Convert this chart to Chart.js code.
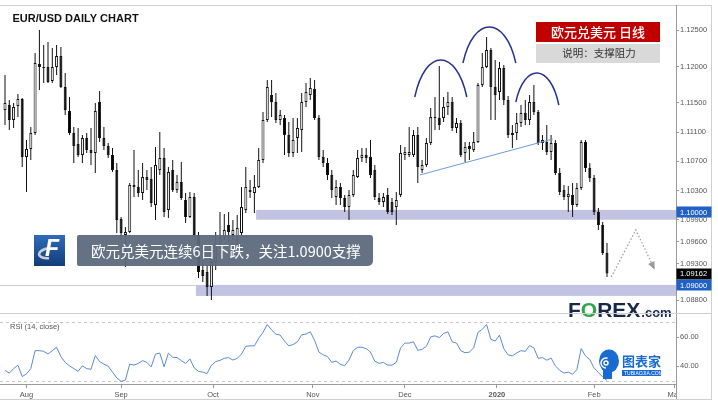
<!DOCTYPE html>
<html><head><meta charset="utf-8">
<title>EUR/USD Daily Chart</title>
<script src="https://cdn.jsdelivr.net/npm/chart.js@4.4.1/dist/chart.umd.min.js"></script>
<style>
html,body{margin:0;padding:0;background:#fff;}
body{width:718px;height:403px;position:relative;overflow:hidden;}
#frame{position:absolute;left:0;top:5px;width:712px;height:395px;box-sizing:border-box;border-top:1px solid #d0d0d0;border-right:1px solid #d0d0d0;border-bottom:1px solid #d0d0d0;}
canvas{position:absolute;left:0;}
#mainC{top:0;}
#rsiC{top:313px;}
</style></head>
<body>
<div id="frame"></div>
<canvas id="mainC" width="718" height="322" style="width:718px;height:322px"></canvas>
<canvas id="rsiC" width="718" height="90" style="width:718px;height:90px"></canvas>
<script>
// ---------------- data ----------------
const opens = [1.11404,1.11473,1.11267,1.11459,1.11555,1.10760,1.10870,1.11089,1.12034,1.11993,
1.11993,1.11801,1.11993,1.12144,1.11719,1.11390,1.11089,1.10938,1.10788,1.11020,
1.10856,1.10815,1.11514,1.11020,1.10911,1.10788,1.10582,1.09911,1.09692,1.09733,
1.10377,1.10349,1.10267,1.10486,1.10459,1.10103,1.10582,1.10746,1.10034,1.10582,
1.10308,1.10418,1.10171,1.09938,1.10212,1.09692,1.09212,1.09185,1.08979,1.09322,
1.09555,1.09664,1.09829,1.09692,1.09623,1.09719,1.10034,1.10308,1.10267,1.10349,
1.10719,1.11267,1.11610,1.11514,1.11267,1.11295,1.11062,1.10815,1.11020,1.11130,
1.11514,1.11610,1.11692,1.11295,1.10760,1.10678,1.10514,1.10212,1.10349,1.10198,
1.10075,1.10240,1.10486,1.10746,1.10788,1.10760,1.10582,1.10198,1.10144,1.10240,
1.10144,1.10075,1.10240,1.10788,1.10788,1.10788,1.11062,1.10582,1.10651,1.10952,
1.11308,1.11295,1.11295,1.11445,1.11514,1.11157,1.11226,1.10815,1.10911,1.10856,
1.10966,1.11747,1.11993,1.12226,1.11719,1.11651,1.11979,1.11541,1.11062,1.11089,
1.11226,1.11363,1.11267,1.11514,1.11377,1.10952,1.10966,1.10829,1.10952,1.10541,
1.10308,1.10212,1.10240,1.10103,1.10335,1.10966,1.10609,1.10472,1.10007,1.09829,
1.09445];
const highs = [1.11883,1.11541,1.11500,1.11623,1.11568,1.10993,1.11171,1.12185,1.12500,1.12295,
1.12336,1.12253,1.12295,1.12267,1.11911,1.11582,1.11171,1.11157,1.11062,1.11089,
1.11157,1.11500,1.11664,1.11171,1.10952,1.10883,1.10678,1.09938,1.09801,1.10404,
1.10856,1.10582,1.10678,1.10582,1.10623,1.10897,1.11103,1.10883,1.10623,1.10719,
1.10514,1.10692,1.10267,1.10281,1.10267,1.09733,1.09322,1.09281,1.09486,1.09733,
1.10007,1.09979,1.10007,1.09897,1.09966,1.10349,1.10623,1.10445,1.10514,1.10883,
1.11377,1.11815,1.11815,1.11637,1.11404,1.11336,1.11240,1.11295,1.11295,1.11637,
1.11774,1.11842,1.11815,1.11336,1.10856,1.10746,1.10582,1.10445,1.10404,1.10240,
1.10308,1.10582,1.10856,1.10883,1.10883,1.10993,1.10651,1.10267,1.10267,1.10335,
1.10198,1.10281,1.10924,1.10897,1.11171,1.11130,1.11171,1.10719,1.11020,1.11431,
1.11582,1.12007,1.11582,1.11651,1.11582,1.11295,1.11267,1.10966,1.10966,1.11103,
1.11774,1.12185,1.12404,1.12253,1.12089,1.12062,1.12021,1.11596,1.11199,1.11363,
1.11473,1.11541,1.11610,1.11747,1.11404,1.11062,1.11199,1.11062,1.10993,1.10609,
1.10377,1.10363,1.10404,1.10404,1.10993,1.10993,1.10678,1.10514,1.10061,1.09870,
1.09582];
const lows = [1.11199,1.11130,1.11157,1.11308,1.10623,1.10281,1.10719,1.11062,1.11678,1.11774,
1.11774,1.11774,1.11883,1.11705,1.11336,1.11062,1.10678,1.10760,1.10678,1.10815,
1.10651,1.10541,1.10966,1.10856,1.10746,1.10555,1.09719,1.09623,1.09253,1.09719,
1.10212,1.10212,1.10171,1.10308,1.10075,1.09897,1.10514,1.09938,1.09924,1.10281,
1.10267,1.10171,1.09856,1.09924,1.09664,1.09102,1.09048,1.08856,1.08801,1.09212,
1.09514,1.09623,1.09596,1.09623,1.09555,1.09692,1.09993,1.10198,1.09993,1.10335,
1.10678,1.11240,1.11308,1.11226,1.11199,1.10788,1.10760,1.10760,1.10815,1.10829,
1.11445,1.11541,1.11267,1.10719,1.10623,1.10445,1.10198,1.10103,1.10103,1.10007,
1.09897,1.10212,1.10472,1.10692,1.10678,1.10472,1.10171,1.10103,1.10075,1.09979,
1.09966,1.09829,1.10212,1.10719,1.10760,1.10760,1.10404,1.10541,1.10623,1.10924,
1.11130,1.11130,1.11240,1.11336,1.11116,1.11089,1.10760,1.10692,1.10719,1.10829,
1.10952,1.11719,1.11979,1.11267,1.11267,1.11541,1.11473,1.11020,1.10883,1.10993,
1.11171,1.11199,1.11199,1.11336,1.10924,1.10856,1.10788,1.10719,1.10514,1.10240,
1.10171,1.10007,1.09938,1.10075,1.10308,1.10555,1.10418,1.09966,1.09760,1.09417,
1.09116];
const closes = [1.11500,1.11267,1.11445,1.11555,1.10760,1.10870,1.11089,1.12048,1.11993,1.11979,
1.11788,1.11993,1.12144,1.11719,1.11404,1.11089,1.10911,1.10788,1.11020,1.10856,
1.10815,1.11390,1.11020,1.10911,1.10788,1.10582,1.09897,1.09719,1.09733,1.10377,
1.10349,1.10267,1.10486,1.10445,1.10130,1.10651,1.10746,1.10007,1.10555,1.10308,
1.10418,1.10198,1.09938,1.10212,1.09692,1.09185,1.09130,1.08979,1.09322,1.09555,
1.09650,1.09760,1.09733,1.09760,1.09787,1.10075,1.10349,1.10281,1.10349,1.10719,
1.11267,1.11719,1.11514,1.11267,1.11336,1.11062,1.10815,1.10993,1.11157,1.11514,
1.11651,1.11705,1.11295,1.10760,1.10678,1.10514,1.10308,1.10349,1.10198,1.10075,
1.10240,1.10514,1.10746,1.10788,1.10746,1.10514,1.10212,1.10144,1.10212,1.10007,
1.10007,1.10171,1.10815,1.10829,1.10829,1.11062,1.10623,1.10651,1.10952,1.11308,
1.11295,1.11199,1.11445,1.11514,1.11157,1.11226,1.10788,1.10897,1.10870,1.10966,
1.11747,1.11993,1.12226,1.11719,1.11610,1.11979,1.11541,1.11062,1.11089,1.11226,
1.11363,1.11267,1.11514,1.11377,1.10952,1.10993,1.10829,1.10952,1.10541,1.10281,
1.10212,1.10253,1.10103,1.10335,1.10966,1.10609,1.10472,1.10007,1.09829,1.09445,
1.09162];
const rsi14 = [37.0,35.1,38.2,40.6,32.7,34.6,38.2,50.6,50.6,50.1,
48.2,50.6,52.9,46.5,42.5,40.1,38.2,36.3,40.1,38.2,
37.7,47.2,43.0,41.3,39.9,35.8,31.8,29.4,30.3,41.3,
40.6,41.8,43.7,42.5,39.4,48.2,48.9,39.4,48.9,46.0,
45.8,43.7,41.8,44.9,38.7,36.3,35.8,34.8,40.5,43.0,
43.9,45.3,45.8,44.1,45.3,48.2,53.6,53.9,53.9,59.1,
63.2,68.6,64.8,62.0,61.3,57.2,53.9,54.8,56.7,61.5,
62.0,63.6,57.7,49.6,47.7,46.5,42.5,43.4,41.2,40.2,
44.1,50.6,52.9,52.9,52.0,49.6,43.4,41.8,42.5,40.6,
40.6,42.5,52.5,55.8,55.8,56.7,50.8,51.5,53.6,60.1,
60.8,59.6,62.4,63.6,56.7,55.8,50.6,49.1,49.6,52.5,
63.2,65.3,68.6,58.4,57.2,61.3,52.0,47.7,47.0,49.0,
50.6,50.1,54.1,52.5,45.3,45.8,44.0,45.5,40.1,37.0,
35.1,35.8,34.3,37.5,52.0,47.0,44.5,38.5,35.5,32.5,
30.0];

// axis ticks and labels
const priceTicks = [1.125,1.12,1.115,1.111,1.107,1.103,1.099,1.096,1.093,1.088];
const rsiTicks = [40,60];
const rsiBands = [70,30];
const monthTickIdx = [5,27,48.4,71.6,93,114.4,137,155.6];
const monthLabels = ['Aug','Sep','Oct','Nov','Dec','2020','Feb','Mar'];

// annotation levels
const levelValues = [1.10000,1.09162,1.09000];
const levelColors = ['#2160c4','#000000','#2160c4'];
const zoneStart = [58.4,44.4];
const zoneTop = [1.10035,1.09007];
const zoneBottom = [1.09900,1.08856];
const necklineIdx = [96.5,127.4];
const necklinePrice = [1.10514,1.11007];
const arcIdx = [[95.3,101.6,107.4],[106.5,113,118.8],[118.8,124,128.8]];
const arcPrice = [[1.11582,1.12089,1.11582],[1.12048,1.12541,1.12048],[1.11514,1.11911,1.11472]];
const arrowIdx = [141,146.7,150.9];
const arrowPrice = [1.09116,1.09760,1.09240];

const titleText = 'EUR/USD DAILY CHART';
const badgeText = '欧元兑美元 日线';
const noteText = '说明：支撑阻力';
const calloutText = '欧元兑美元连续6日下跌，关注1.0900支撑';

// ---------------- chart ----------------
const AX_FONT = '"Liberation Sans", Arial, sans-serif';
const CJK = '"Noto Sans CJK SC", "Noto Sans", sans-serif';
const X_MIN = -1.163, X_MAX = 156.05;

const bodies = opens.map((o, i) => ({x: i, y: [o, closes[i]]}));
const wicks = lows.map((l, i) => ({x: i, y: [l, highs[i]]}));
const bodyColors = opens.map((o, i) => closes[i] >= o ? '#ffffff' : '#000000');

function zeroPad(s){ s.paddingTop = 0; s.paddingBottom = 0; s.paddingLeft = 0; s.paddingRight = 0; }

const mainDecor = {
  id: 'mainDecor',
  beforeDatasetsDraw(chart) {
    const {ctx, chartArea: a, scales: {x, y}} = chart;
    ctx.save();
    ctx.fillStyle = '#c2c3e3';
    zoneStart.forEach((s, i) => {
      const x0 = x.getPixelForValue(s);
      const y0 = y.getPixelForValue(zoneTop[i]);
      const y1 = y.getPixelForValue(zoneBottom[i]);
      ctx.fillRect(x0, y0, a.right - x0, y1 - y0);
    });
    const yl = Math.round(y.getPixelForValue(zoneTop[1])) + 0.5;
    ctx.strokeStyle = '#c8c9e6';
    ctx.lineWidth = 1;
    ctx.beginPath(); ctx.moveTo(a.left, yl); ctx.lineTo(x.getPixelForValue(zoneStart[1]), yl); ctx.stroke();
    ctx.restore();
  },
  afterDatasetsDraw(chart) {
    const {ctx, scales: {x, y}} = chart;
    const P = (i, v) => [x.getPixelForValue(i), y.getPixelForValue(v)];
    ctx.save();
    // neckline
    ctx.strokeStyle = '#6d9ae0'; ctx.lineWidth = 1;
    const n0 = P(necklineIdx[0], necklinePrice[0]), n1 = P(necklineIdx[1], necklinePrice[1]);
    ctx.beginPath(); ctx.moveTo(n0[0], n0[1]); ctx.lineTo(n1[0], n1[1]); ctx.stroke();
    // head & shoulders arcs
    ctx.strokeStyle = '#26338c'; ctx.lineWidth = 1.5;
    arcIdx.forEach((ix, j) => {
      const pr = arcPrice[j];
      const s = P(ix[0], pr[0]), t = P(ix[1], pr[1]), e = P(ix[2], pr[2]);
      const c = (8 * t[1] - s[1] - e[1]) / 6;
      const w = e[0] - s[0];
      ctx.beginPath(); ctx.moveTo(s[0], s[1]);
      ctx.bezierCurveTo(s[0] + 0.2 * w, c, e[0] - 0.2 * w, c, e[0], e[1]);
      ctx.stroke();
    });
    // projected dotted path
    const pts = arrowIdx.map((ix, j) => P(ix, arrowPrice[j]));
    ctx.strokeStyle = '#9b9b9b'; ctx.lineWidth = 1.2; ctx.setLineDash([1.5, 2]);
    ctx.beginPath(); ctx.moveTo(pts[0][0], pts[0][1]);
    for (let k = 1; k < pts.length; k++) ctx.lineTo(pts[k][0], pts[k][1]);
    ctx.stroke(); ctx.setLineDash([]);
    const [ax, ay] = pts[pts.length - 1], [bx, by] = pts[pts.length - 2];
    const ang = Math.atan2(ay - by, ax - bx), ca = Math.cos(ang), sa = Math.sin(ang);
    ctx.fillStyle = '#9b9b9b';
    ctx.beginPath();
    ctx.moveTo(ax + 2 * ca, ay + 2 * sa);
    ctx.lineTo(ax - 6 * ca + 3.5 * sa, ay - 6 * sa - 3.5 * ca);
    ctx.lineTo(ax - 6 * ca - 3.5 * sa, ay - 6 * sa + 3.5 * ca);
    ctx.closePath(); ctx.fill();
    ctx.restore();
  },
  afterDraw(chart) {
    const {ctx, chartArea: a, scales: {y}} = chart;
    ctx.save();
    // highlighted price labels
    ctx.font = '7.5px ' + AX_FONT; ctx.textBaseline = 'middle'; ctx.textAlign = 'left';
    levelValues.forEach((v, i) => {
      const py = y.getPixelForValue(v);
      ctx.fillStyle = levelColors[i];
      ctx.fillRect(a.right + 0.5, Math.round(py) - 5.5, 35, 11);
      ctx.fillStyle = '#ffffff';
      ctx.fillText(v.toFixed(5), a.right + 4, py + 0.5);
    });
    // title
    ctx.fillStyle = '#111'; ctx.font = 'bold 11px ' + AX_FONT; ctx.textBaseline = 'alphabetic';
    ctx.fillText(titleText, 12.5, 21.5);
    // badge
    ctx.fillStyle = '#c00000'; ctx.fillRect(536, 22, 124, 20);
    ctx.fillStyle = '#d9d9d9'; ctx.fillRect(536, 44, 124, 19);
    ctx.textAlign = 'center'; ctx.textBaseline = 'middle';
    ctx.fillStyle = '#ffffff'; ctx.font = '500 13px ' + CJK; ctx.fillText(badgeText, 598, 32.5);
    ctx.fillStyle = '#333333'; ctx.font = '10.5px ' + CJK; ctx.fillText(noteText, 599, 53.5);
    // logo square
    const lx = 34, ly = 235, ls = 31;
    const g = ctx.createLinearGradient(lx, ly, lx, ly + ls);
    g.addColorStop(0, '#2f6cb8'); g.addColorStop(1, '#123c78');
    ctx.fillStyle = g; ctx.fillRect(lx, ly, ls, ls);
    ctx.strokeStyle = '#c9ced6'; ctx.lineWidth = 2.5;
    ctx.beginPath(); ctx.ellipse(lx + 16, ly + 18, 11, 5, -0.15, Math.PI * 0.55, Math.PI * 1.5); ctx.stroke();
    ctx.fillStyle = '#ffffff'; ctx.font = 'italic bold 23px ' + AX_FONT;
    ctx.fillText('F', lx + 18, ly + 15);
    // callout box
    ctx.globalAlpha = 0.95; ctx.fillStyle = '#5d6a7c';
    ctx.beginPath();
    if (ctx.roundRect) ctx.roundRect(77, 235, 296, 31, [2, 3, 5, 2]); else ctx.rect(77, 235, 296, 31);
    ctx.fill(); ctx.globalAlpha = 1;
    ctx.fillStyle = '#ffffff'; ctx.font = '14.5px ' + CJK; ctx.textAlign = 'left';
    ctx.fillText(calloutText, 91, 251);
    // FOREX.com
    ctx.textBaseline = 'alphabetic'; ctx.font = 'bold 21px ' + AX_FONT;
    let fx = 568; const fy = 316.5;
    [['F', '#17284a'], ['O', '#2ea64b'], ['REX', '#17284a']].forEach(([t, c]) => {
      ctx.fillStyle = c; ctx.fillText(t, fx, fy); fx += ctx.measureText(t).width;
    });
    ctx.font = 'bold 13px ' + AX_FONT; ctx.fillStyle = '#17284a'; ctx.fillText('.com', fx + 1, fy);
    ctx.restore();
  }
};

new Chart(document.getElementById('mainC'), {
  type: 'bar',
  data: {
    datasets: [
      {data: bodies, backgroundColor: bodyColors, borderColor: '#111', borderWidth: 1,
       borderSkipped: false, grouped: false, maxBarThickness: 3, minBarLength: 1},
      {data: wicks, backgroundColor: '#111', borderWidth: 0, grouped: false, maxBarThickness: 1}
    ]
  },
  options: {
    responsive: false, animation: false, devicePixelRatio: 1, events: [],
    layout: {padding: {top: 5, bottom: 9, left: 0, right: 0}},
    plugins: {legend: {display: false}, tooltip: {enabled: false}},
    scales: {
      x: {type: 'linear', min: X_MIN, max: X_MAX, offset: false, display: false, grid: {offset: false}},
      y: {
        position: 'right', min: 1.08622, max: 1.12843, beginAtZero: false,
        afterFit: s => { s.width = 42; zeroPad(s); },
        afterBuildTicks: s => { s.ticks = priceTicks.map(v => ({value: v})); },
        ticks: {callback: v => Number(v).toFixed(5), font: {family: AX_FONT, size: 7.5}, color: '#555', padding: 1},
        grid: {drawOnChartArea: false, drawTicks: true, tickLength: 3, color: '#999'},
        border: {display: true, color: '#999'}
      }
    }
  },
  plugins: [mainDecor]
});

const rsiDecor = {
  id: 'rsiDecor',
  beforeDatasetsDraw(chart) {
    const {ctx, chartArea: a, scales: {y}} = chart;
    ctx.save(); ctx.strokeStyle = '#c4c4c4'; ctx.setLineDash([3, 3]); ctx.lineWidth = 1;
    rsiBands.forEach(v => {
      const py = Math.round(y.getPixelForValue(v)) + 0.5;
      ctx.beginPath(); ctx.moveTo(a.left, py); ctx.lineTo(a.right, py); ctx.stroke();
    });
    ctx.restore();
  },
  afterDraw(chart) {
    const {ctx, chartArea: a} = chart;
    ctx.save();
    ctx.fillStyle = '#ffffff';
    ctx.fillRect(a.right + 1, a.bottom + 1, 710 - a.right - 1, 13);
    ctx.strokeStyle = '#999'; ctx.lineWidth = 1;
    ctx.beginPath(); ctx.moveTo(a.right + 0.5, a.bottom); ctx.lineTo(a.right + 0.5, 86); ctx.stroke();
    ctx.strokeStyle = '#cfcfcf';
    ctx.beginPath(); ctx.moveTo(0, 0.5); ctx.lineTo(711, 0.5); ctx.stroke();
    ctx.fillStyle = '#555'; ctx.font = '7.5px ' + AX_FONT; ctx.textBaseline = 'middle'; ctx.textAlign = 'left';
    ctx.fillText('RSI (14, close)', 10, 14);
    // 图表家 logo
    ctx.fillStyle = '#1a6bd1';
    ctx.beginPath(); ctx.ellipse(609, 48, 10, 11.5, 0, 0, Math.PI * 2); ctx.fill();
    ctx.fillRect(603, 55, 9, 11);
    ctx.strokeStyle = '#ffffff'; ctx.lineWidth = 1.5;
    ctx.beginPath(); ctx.arc(606, 50, 5, Math.PI * 0.5, Math.PI * 1.6); ctx.stroke();
    ctx.beginPath(); ctx.arc(606, 50, 2, 0, Math.PI * 2); ctx.stroke();
    ctx.fillStyle = '#1a6bd1'; ctx.font = 'bold 13px ' + CJK;
    ctx.fillText('图表家', 622, 48);
    ctx.fillRect(622, 57, 39, 6);
    ctx.fillStyle = '#ffffff'; ctx.font = '5px ' + AX_FONT;
    ctx.fillText('TUBIAOJIA.COM', 624, 60.2);
    ctx.restore();
  }
};

new Chart(document.getElementById('rsiC'), {
  type: 'line',
  data: {datasets: [{data: rsi14.map((v, i) => ({x: i, y: v})), borderColor: '#5b8ad6', borderWidth: 1, pointRadius: 0, tension: 0, fill: false}]},
  options: {
    responsive: false, animation: false, devicePixelRatio: 1, events: [],
    layout: {padding: 0},
    plugins: {legend: {display: false}, tooltip: {enabled: false}},
    scales: {
      x: {
        type: 'linear', min: X_MIN, max: X_MAX, offset: false,
        afterFit: s => { s.height = 19; zeroPad(s); },
        afterBuildTicks: s => { s.ticks = monthTickIdx.map(v => ({value: v})); },
        ticks: {
          autoSkip: false, maxRotation: 0, minRotation: 0, padding: 2, color: '#555',
          callback: (v, i) => monthLabels[i],
          font: c => ({family: AX_FONT, size: 7.5, weight: monthLabels[c.index] === '2020' ? 'bold' : 'normal'})
        },
        grid: {drawOnChartArea: false, drawTicks: true, tickLength: 4, color: '#999'},
        border: {display: true, color: '#999'}
      },
      y: {
        position: 'right', min: 27.59, max: 76.55,
        afterFit: s => { s.width = 42; zeroPad(s); },
        afterBuildTicks: s => { s.ticks = rsiTicks.map(v => ({value: v})); },
        ticks: {callback: v => Number(v).toFixed(2), font: {family: AX_FONT, size: 7.5}, color: '#555', padding: 1},
        grid: {drawOnChartArea: false, drawTicks: true, tickLength: 3, color: '#999'},
        border: {display: true, color: '#999'}
      }
    }
  },
  plugins: [rsiDecor]
});
</script>
</body></html>
